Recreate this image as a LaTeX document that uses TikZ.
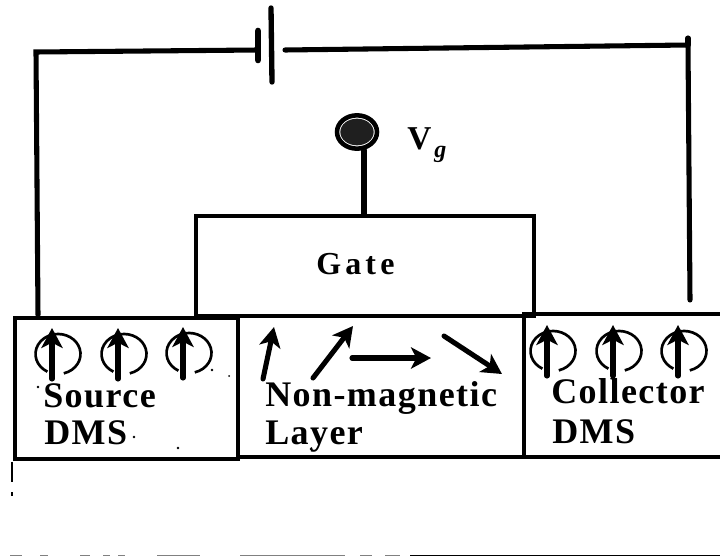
\documentclass[tikz,border=0pt]{standalone}
\usepackage{fontspec}
\setmainfont{Liberation Serif}
\newfontfamily\lblfont[LetterSpace=4]{Liberation Serif}
\newfontfamily\gatefont[LetterSpace=13]{Liberation Serif}
\usetikzlibrary{arrows.meta,shapes.geometric}
\tikzset{
  wire/.style={line width=3.8pt,line cap=round},
  box/.style={draw,line width=3pt,rectangle,inner sep=0pt,anchor=north west},
  lbl/.style={font=\lblfont\bfseries\fontsize{27}{27}\selectfont,inner sep=0pt,anchor=base west},
  spin/.style={line width=3.8pt,line cap=round,-{Stealth[length=15pt,width=16pt,inset=4pt]}},
  orbit/.style={line width=2pt},
  scan/.style={line width=1.2pt},
  speck/.style={fill=black,inner sep=0pt,circle,minimum size=2pt}
}
\newcommand{\spinmark}[2]{% arrow x, arrow top y
  \draw[spin] (#1,#2+51) -- (#1,#2);
  \draw[orbit] (#1+6,#2+26) ++(75:22.5 and 20) arc[start angle=75,end angle=-100,x radius=22.5,y radius=20];
  \draw[orbit] (#1+6,#2+26) ++(118:22.5 and 20) arc[start angle=118,end angle=258,x radius=22.5,y radius=20];
}
\begin{document}
\begin{tikzpicture}[x=0.75pt,y=-0.75pt]
\useasboundingbox (0,0) rectangle (720,556);
% layers
\node[box,minimum width=167pt,minimum height=106pt] (source) at (13,316) {};
\node[box,minimum width=214.5pt,minimum height=106pt] (middle) at (236,314) {};
\node[box,minimum width=165pt,minimum height=107pt] (collector) at (522,312) {};
\node[box,minimum width=253.5pt,minimum height=75pt] (gate) at (194,214) {};
% labels
\node[font=\gatefont\bfseries\fontsize{24}{24}\selectfont,inner sep=0pt,anchor=base west] (gatetext) at (316,274) {Gate};
\node[lbl] (t1) at (43,407) {Source};
\node[lbl] (t2) at (44,444) {DMS};
\node[lbl] (t3) at (265,406) {Non-magnetic};
\node[lbl] (t4) at (265,444) {Layer};
\node[lbl] (t5) at (551,403) {Collector};
\node[lbl] (t6) at (552,443) {DMS};
\node[font=\bfseries\fontsize{25}{25}\selectfont,inner sep=0pt,anchor=base west] (vg) at (407,150) {V};
\node[font=\bfseries\itshape\fontsize{18}{18}\selectfont,inner sep=0pt,anchor=base west] (vgsub) at (434,157) {g};
% terminal
\node[draw,ellipse,line width=3.4pt,fill=white,minimum width=30pt,minimum height=25pt,inner sep=0pt] (term) at (357,132) {};
\node[ellipse,fill=black!88,minimum width=25pt,minimum height=20pt,inner sep=0pt] (core) at (term) {};
\draw[wire] (364,150) -- (gate.north -| 364,0);
% battery
\coordinate (neg) at (258,50);
\coordinate (pos) at (285,50);
\coordinate (corner1) at (36,52);
\coordinate (corner2) at (688,45);
\coordinate (leftdrop) at (38,315);
\coordinate (rightdrop) at (690,300);
\draw[wire,line width=5pt] (258,31) -- (258,60);
\draw[wire,line width=4pt] (271,8) -- (272,82);
\draw[wire] (leftdrop) -- (corner1) -- (neg);
\draw[wire] (pos) -- (corner2) -- (rightdrop);
\draw[wire] (688,38) -- (688,45);
% spins
\spinmark{52}{328}
\spinmark{118}{328}
\spinmark{183}{327}
\spinmark{547}{325}
\spinmark{613}{325}
\spinmark{678}{325}
% free spins
\draw[spin] (263,379) -- (274,327);
\draw[spin] (313,378) -- (353,326);
\draw[spin] (352,358) -- (431,358);
\draw[spin] (444,336) -- (502,374);
% scan marks
\draw[scan] (12,462) -- (12,482);
\draw[scan] (12,492) -- (12,496);
\draw[scan,black!50] (10,555.5) -- (22,555.5) (40,555.5) -- (48,555.5) (80,555.5) -- (90,555.5) (103,555.5) -- (110,555.5) (118,555.5) -- (125,555.5) (157,555.5) -- (200,555.5) (240,555.5) -- (345,555.5) (360,555.5) -- (372,555.5) (385,555.5) -- (400,555.5);
\draw[scan] (410,555.5) -- (720,555.5);
\node[speck] (s1) at (38,387) {};
\node[speck] (s2) at (212,370) {};
\node[speck,minimum size=1.5pt] (s3) at (229,376) {};
\node[speck] (s4) at (178,448) {};
\node[speck] (s5) at (134,437) {};
\node[speck] (s6) at (311,449) {};
\end{tikzpicture}
\end{document}
